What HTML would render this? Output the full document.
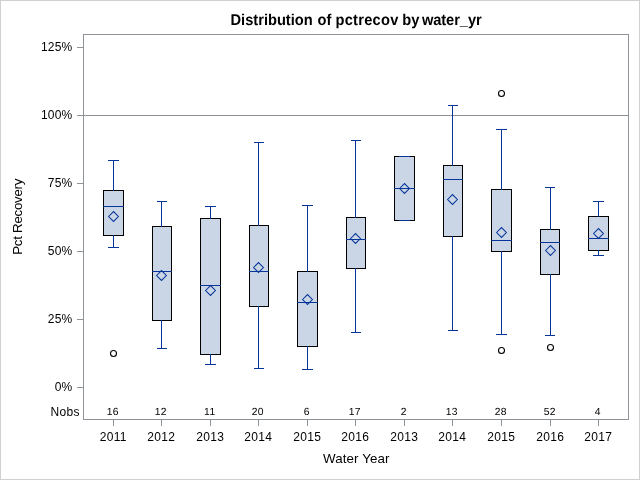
<!DOCTYPE html>
<html><head><meta charset="utf-8"><title>Distribution of pctrecov by water_yr</title>
<style>html,body{margin:0;padding:0;background:#fff;overflow:hidden}svg{display:block}text{font-family:"Liberation Sans",sans-serif;fill:#000}</style></head><body>
<svg width="640" height="480" viewBox="0 0 640 480">
<rect x="0" y="0" width="640" height="480" fill="#fff"/>
<rect x="0.5" y="0.5" width="639" height="479" fill="none" stroke="#d0d0d0" stroke-width="1" shape-rendering="crispEdges"/>
<text transform="translate(0,25) scale(1,1.07)" y="0" font-size="14.67" font-weight="bold" text-rendering="geometricPrecision" id="title"><tspan x="230.5">Distribution</tspan> <tspan x="317.5">of</tspan> <tspan x="335.5" letter-spacing="0.25">pctrecov</tspan> <tspan x="402.2">by</tspan> <tspan x="421.9" letter-spacing="-0.07">water_yr</tspan></text>
<g shape-rendering="crispEdges" stroke="#8e9499" stroke-width="1" fill="none">
<rect x="83.5" y="34.5" width="545" height="385"/>
<line x1="84" y1="115.5" x2="628" y2="115.5"/>
<line x1="77" y1="47.5" x2="83" y2="47.5"/>
<line x1="77" y1="115.5" x2="83" y2="115.5"/>
<line x1="77" y1="183.5" x2="83" y2="183.5"/>
<line x1="77" y1="251.5" x2="83" y2="251.5"/>
<line x1="77" y1="319.5" x2="83" y2="319.5"/>
<line x1="77" y1="387.5" x2="83" y2="387.5"/>
<line x1="113.5" y1="420" x2="113.5" y2="426"/>
<line x1="161.5" y1="420" x2="161.5" y2="426"/>
<line x1="210.5" y1="420" x2="210.5" y2="426"/>
<line x1="258.5" y1="420" x2="258.5" y2="426"/>
<line x1="307.5" y1="420" x2="307.5" y2="426"/>
<line x1="355.5" y1="420" x2="355.5" y2="426"/>
<line x1="404.5" y1="420" x2="404.5" y2="426"/>
<line x1="452.5" y1="420" x2="452.5" y2="426"/>
<line x1="501.5" y1="420" x2="501.5" y2="426"/>
<line x1="550.5" y1="420" x2="550.5" y2="426"/>
<line x1="598.5" y1="420" x2="598.5" y2="426"/>
</g>
<g font-size="12" text-anchor="end" letter-spacing="0.17">
<text x="72.4" y="50.6">125%</text>
<text x="72.4" y="118.6">100%</text>
<text x="72.4" y="186.6">75%</text>
<text x="72.4" y="254.6">50%</text>
<text x="72.4" y="322.6">25%</text>
<text x="72.4" y="390.6">0%</text>
<text x="79.8" y="415.5" letter-spacing="0.33">Nobs</text>
</g>
<g font-size="12" text-anchor="middle" letter-spacing="0.33">
<text x="113.3" y="441">2011</text>
<text x="161.3" y="441">2012</text>
<text x="210.3" y="441">2013</text>
<text x="258.3" y="441">2014</text>
<text x="307.3" y="441">2015</text>
<text x="355.3" y="441">2016</text>
<text x="404.3" y="441">2013</text>
<text x="452.3" y="441">2014</text>
<text x="501.3" y="441">2015</text>
<text x="550.3" y="441">2016</text>
<text x="598.3" y="441">2017</text>
</g>
<g font-size="10.3" text-anchor="middle" letter-spacing="0.4" text-rendering="geometricPrecision">
<text x="112.85" y="415">16</text>
<text x="160.85" y="415">12</text>
<text x="209.85" y="415">11</text>
<text x="257.85" y="415">20</text>
<text x="306.85" y="415">6</text>
<text x="354.85" y="415">17</text>
<text x="403.85" y="415">2</text>
<text x="451.85" y="415">13</text>
<text x="500.85" y="415">28</text>
<text x="549.85" y="415">52</text>
<text x="597.85" y="415">4</text>
</g>
<text x="356.3" y="462.7" text-anchor="middle" font-size="13.33" letter-spacing="0.1" id="xl">Water Year</text>
<text transform="translate(22,216.8) rotate(-90)" text-anchor="middle" font-size="13.33" letter-spacing="-0.28" id="yl">Pct Recovery</text>
<g shape-rendering="crispEdges">
<rect x="103.5" y="190.5" width="20" height="45" fill="#cad5e5" stroke="#000"/>
<line x1="113.5" y1="160" x2="113.5" y2="191" stroke="#06359a"/>
<line x1="113.5" y1="235" x2="113.5" y2="248" stroke="#06359a"/>
<line x1="108" y1="160.5" x2="119" y2="160.5" stroke="#06359a"/>
<line x1="108" y1="247.5" x2="119" y2="247.5" stroke="#06359a"/>
<line x1="103" y1="206.5" x2="124" y2="206.5" stroke="#06359a"/>
</g>
<path d="M108.6,216.5 L113.5,211.6 L118.4,216.5 L113.5,221.4 Z" fill="none" stroke="#06359a" stroke-width="1.05"/>
<g shape-rendering="crispEdges">
<rect x="152.5" y="226.5" width="19" height="94" fill="#cad5e5" stroke="#000"/>
<line x1="161.5" y1="201" x2="161.5" y2="227" stroke="#06359a"/>
<line x1="161.5" y1="320" x2="161.5" y2="349" stroke="#06359a"/>
<line x1="157" y1="201.5" x2="167" y2="201.5" stroke="#06359a"/>
<line x1="157" y1="348.5" x2="167" y2="348.5" stroke="#06359a"/>
<line x1="152" y1="271.5" x2="172" y2="271.5" stroke="#06359a"/>
</g>
<path d="M156.6,275.5 L161.5,270.6 L166.4,275.5 L161.5,280.4 Z" fill="none" stroke="#06359a" stroke-width="1.05"/>
<g shape-rendering="crispEdges">
<rect x="200.5" y="218.5" width="20" height="136" fill="#cad5e5" stroke="#000"/>
<line x1="210.5" y1="206" x2="210.5" y2="219" stroke="#06359a"/>
<line x1="210.5" y1="354" x2="210.5" y2="365" stroke="#06359a"/>
<line x1="205" y1="206.5" x2="216" y2="206.5" stroke="#06359a"/>
<line x1="205" y1="364.5" x2="216" y2="364.5" stroke="#06359a"/>
<line x1="200" y1="285.5" x2="221" y2="285.5" stroke="#06359a"/>
</g>
<path d="M205.6,290.5 L210.5,285.6 L215.4,290.5 L210.5,295.4 Z" fill="none" stroke="#06359a" stroke-width="1.05"/>
<g shape-rendering="crispEdges">
<rect x="249.5" y="225.5" width="19" height="81" fill="#cad5e5" stroke="#000"/>
<line x1="258.5" y1="142" x2="258.5" y2="226" stroke="#06359a"/>
<line x1="258.5" y1="306" x2="258.5" y2="369" stroke="#06359a"/>
<line x1="254" y1="142.5" x2="264" y2="142.5" stroke="#06359a"/>
<line x1="254" y1="368.5" x2="264" y2="368.5" stroke="#06359a"/>
<line x1="249" y1="271.5" x2="269" y2="271.5" stroke="#06359a"/>
</g>
<path d="M253.6,267.5 L258.5,262.6 L263.4,267.5 L258.5,272.4 Z" fill="none" stroke="#06359a" stroke-width="1.05"/>
<g shape-rendering="crispEdges">
<rect x="297.5" y="271.5" width="20" height="75" fill="#cad5e5" stroke="#000"/>
<line x1="307.5" y1="205" x2="307.5" y2="272" stroke="#06359a"/>
<line x1="307.5" y1="346" x2="307.5" y2="370" stroke="#06359a"/>
<line x1="302" y1="205.5" x2="313" y2="205.5" stroke="#06359a"/>
<line x1="302" y1="369.5" x2="313" y2="369.5" stroke="#06359a"/>
<line x1="297" y1="302.5" x2="318" y2="302.5" stroke="#06359a"/>
</g>
<path d="M302.6,299.5 L307.5,294.6 L312.4,299.5 L307.5,304.4 Z" fill="none" stroke="#06359a" stroke-width="1.05"/>
<g shape-rendering="crispEdges">
<rect x="346.5" y="217.5" width="19" height="51" fill="#cad5e5" stroke="#000"/>
<line x1="355.5" y1="140" x2="355.5" y2="218" stroke="#06359a"/>
<line x1="355.5" y1="268" x2="355.5" y2="333" stroke="#06359a"/>
<line x1="351" y1="140.5" x2="361" y2="140.5" stroke="#06359a"/>
<line x1="351" y1="332.5" x2="361" y2="332.5" stroke="#06359a"/>
<line x1="346" y1="239.5" x2="366" y2="239.5" stroke="#06359a"/>
</g>
<path d="M350.6,238.5 L355.5,233.6 L360.4,238.5 L355.5,243.4 Z" fill="none" stroke="#06359a" stroke-width="1.05"/>
<g shape-rendering="crispEdges">
<rect x="394.5" y="156.5" width="20" height="64" fill="#cad5e5" stroke="#000"/>
<line x1="399" y1="156.5" x2="410" y2="156.5" stroke="#06359a"/>
<line x1="399" y1="220.5" x2="410" y2="220.5" stroke="#06359a"/>
<line x1="394" y1="188.5" x2="415" y2="188.5" stroke="#06359a"/>
</g>
<path d="M399.6,188.5 L404.5,183.6 L409.4,188.5 L404.5,193.4 Z" fill="none" stroke="#06359a" stroke-width="1.05"/>
<g shape-rendering="crispEdges">
<rect x="443.5" y="165.5" width="19" height="71" fill="#cad5e5" stroke="#000"/>
<line x1="452.5" y1="105" x2="452.5" y2="166" stroke="#06359a"/>
<line x1="452.5" y1="236" x2="452.5" y2="331" stroke="#06359a"/>
<line x1="448" y1="105.5" x2="458" y2="105.5" stroke="#06359a"/>
<line x1="448" y1="330.5" x2="458" y2="330.5" stroke="#06359a"/>
<line x1="443" y1="179.5" x2="463" y2="179.5" stroke="#06359a"/>
</g>
<path d="M447.6,199.5 L452.5,194.6 L457.4,199.5 L452.5,204.4 Z" fill="none" stroke="#06359a" stroke-width="1.05"/>
<g shape-rendering="crispEdges">
<rect x="491.5" y="189.5" width="20" height="62" fill="#cad5e5" stroke="#000"/>
<line x1="501.5" y1="129" x2="501.5" y2="190" stroke="#06359a"/>
<line x1="501.5" y1="251" x2="501.5" y2="335" stroke="#06359a"/>
<line x1="496" y1="129.5" x2="507" y2="129.5" stroke="#06359a"/>
<line x1="496" y1="334.5" x2="507" y2="334.5" stroke="#06359a"/>
<line x1="491" y1="240.5" x2="512" y2="240.5" stroke="#06359a"/>
</g>
<path d="M496.6,232.5 L501.5,227.6 L506.4,232.5 L501.5,237.4 Z" fill="none" stroke="#06359a" stroke-width="1.05"/>
<g shape-rendering="crispEdges">
<rect x="540.5" y="229.5" width="19" height="45" fill="#cad5e5" stroke="#000"/>
<line x1="550.5" y1="187" x2="550.5" y2="230" stroke="#06359a"/>
<line x1="550.5" y1="274" x2="550.5" y2="336" stroke="#06359a"/>
<line x1="545" y1="187.5" x2="555" y2="187.5" stroke="#06359a"/>
<line x1="545" y1="335.5" x2="555" y2="335.5" stroke="#06359a"/>
<line x1="540" y1="242.5" x2="560" y2="242.5" stroke="#06359a"/>
</g>
<path d="M545.6,250.5 L550.5,245.6 L555.4,250.5 L550.5,255.4 Z" fill="none" stroke="#06359a" stroke-width="1.05"/>
<g shape-rendering="crispEdges">
<rect x="588.5" y="216.5" width="20" height="34" fill="#cad5e5" stroke="#000"/>
<line x1="598.5" y1="201" x2="598.5" y2="217" stroke="#06359a"/>
<line x1="598.5" y1="250" x2="598.5" y2="256" stroke="#06359a"/>
<line x1="593" y1="201.5" x2="604" y2="201.5" stroke="#06359a"/>
<line x1="593" y1="255.5" x2="604" y2="255.5" stroke="#06359a"/>
<line x1="588" y1="238.5" x2="609" y2="238.5" stroke="#06359a"/>
</g>
<path d="M593.6,233.5 L598.5,228.6 L603.4,233.5 L598.5,238.4 Z" fill="none" stroke="#06359a" stroke-width="1.05"/>
<circle cx="113.5" cy="353.5" r="3" fill="none" stroke="#000" stroke-width="1.1"/>
<circle cx="501.5" cy="93.5" r="3" fill="none" stroke="#000" stroke-width="1.1"/>
<circle cx="501.5" cy="350.5" r="3" fill="none" stroke="#000" stroke-width="1.1"/>
<circle cx="550.5" cy="347.5" r="3" fill="none" stroke="#000" stroke-width="1.1"/>
</svg></body></html>
